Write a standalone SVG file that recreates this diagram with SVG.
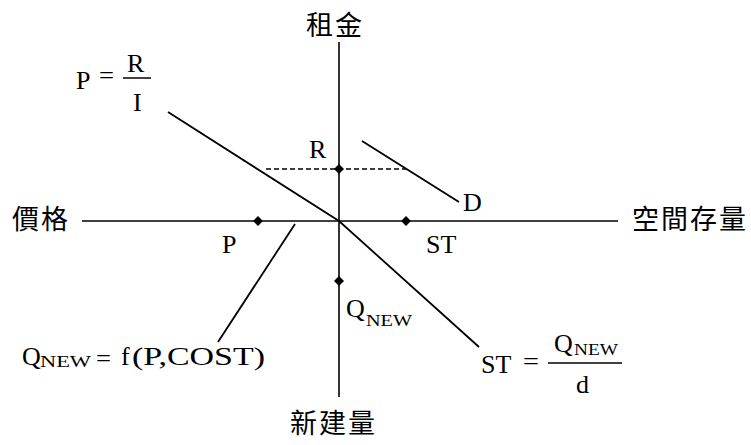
<svg xmlns="http://www.w3.org/2000/svg" width="751" height="445" viewBox="0 0 751 445">
<style>
.ln{stroke:#000;stroke-width:1.8;fill:none;stroke-linecap:butt}
.ax{stroke:#000;stroke-width:1.6;fill:none}
.dash{stroke:#000;stroke-width:1.5;stroke-dasharray:5,3;fill:none}
.t{font-family:"Liberation Serif","Times New Roman",serif;font-size:26px;fill:#000}
.s{font-family:"Liberation Serif","Times New Roman",serif;font-size:17px;fill:#000}
.c{font-family:"Noto Sans CJK TC","Noto Sans CJK SC",sans-serif;font-size:27px;fill:#000;letter-spacing:2px}
.bar{stroke:#000;stroke-width:1.5}
</style>
<defs>
<path id="dot" d="M0,-5 L5,0 L0,5 L-5,0 Z" fill="#000"/>
</defs>
<rect width="751" height="445" fill="#fff"/>
<g id="connectors">
<line class="ax" x1="339" y1="42" x2="339" y2="397"/>
<line class="ax" x1="82" y1="221" x2="618" y2="221"/>
<polyline class="ln" points="168,112 339,221 479,347"/>
<line class="ln" x1="362" y1="141" x2="459" y2="202"/>
<line class="ln" x1="295" y1="224" x2="218" y2="342"/>
<line class="dash" x1="266" y1="169" x2="406" y2="169"/>
</g>
<g id="axis-rent"><text class="c" x="306" y="35">租金</text></g>
<g id="axis-price"><text class="c" x="12" y="229">價格</text></g>
<g id="axis-stock"><text class="c" x="632" y="229">空間存量</text></g>
<g id="axis-new"><text class="c" x="290" y="433">新建量</text></g>
<g id="eq-p">
<text class="t" x="76" y="89">P</text>
<text class="t" x="99" y="84" textLength="15" lengthAdjust="spacingAndGlyphs">=</text>
<line class="bar" x1="123" y1="78" x2="151" y2="78"/>
<text class="t" x="127" y="72">R</text>
<text class="t" x="133" y="111">I</text>
</g>
<g id="pt-r"><use href="#dot" x="339" y="169"/><text class="t" x="309" y="158">R</text></g>
<g id="lbl-d"><text class="t" x="463" y="211">D</text></g>
<g id="pt-p"><use href="#dot" x="258" y="221"/><text class="t" x="222" y="253">P</text></g>
<g id="pt-st"><use href="#dot" x="406" y="221"/><text class="t" x="426" y="253">ST</text></g>
<g id="pt-qnew"><use href="#dot" x="339" y="281"/>
<text class="t" x="346" y="317">Q</text><text class="s" x="366" y="326" textLength="46" lengthAdjust="spacingAndGlyphs">NEW</text>
</g>
<g id="eq-qnew">
<text class="t" x="22" y="365">Q</text><text class="s" x="40" y="367" textLength="51" lengthAdjust="spacingAndGlyphs">NEW</text>
<text class="t" x="96" y="367" textLength="15" lengthAdjust="spacingAndGlyphs">=</text>
<text class="t" x="121" y="365">f</text>
<text class="t" x="132" y="365" textLength="133" lengthAdjust="spacingAndGlyphs">(P,COST)</text>
</g>
<g id="eq-st">
<text class="t" x="481" y="373">ST</text>
<text class="t" x="523" y="370" textLength="16" lengthAdjust="spacingAndGlyphs">=</text>
<line class="bar" x1="548" y1="363" x2="622" y2="363"/>
<text class="t" x="554" y="352">Q</text><text class="s" x="574" y="355" textLength="44" lengthAdjust="spacingAndGlyphs">NEW</text>
<text class="t" x="576" y="393">d</text>
</g>
</svg>
